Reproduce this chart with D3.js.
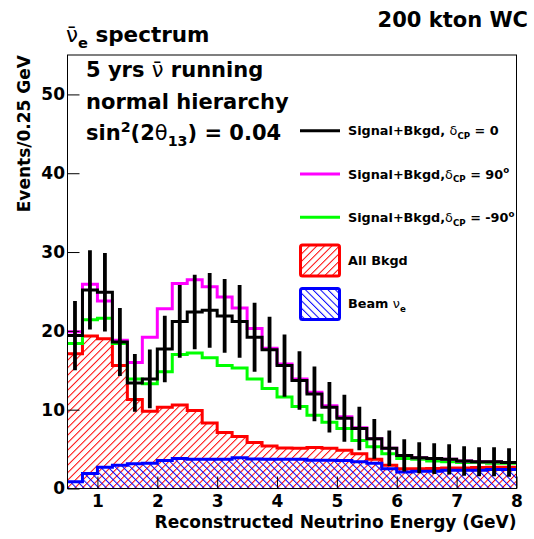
<!DOCTYPE html>
<html>
<head>
<meta charset="utf-8">
<script src="https://cdn.jsdelivr.net/npm/d3@7"></script>
<style>
body { margin: 0; background: #fff; }
text { font-family: "DejaVu Sans", sans-serif; font-weight: bold; fill: #000; }
</style>
</head>
<body>
<div id="chart"></div>
<script>
// histogram binning (GeV)
var binLow = 0.5, binWidth = 0.25, nBins = 30;

// events per bin
var sigCP0   = [19.4, 25.2, 24.9, 18.6, 13.4, 13.9, 17.7, 21.2, 22.4, 22.6, 21.9, 21.2, 19.2, 17.6, 15.6,
                13.7, 12.0, 10.3, 8.9, 7.6, 6.3, 5.1, 4.2, 3.9, 3.8, 3.7, 3.5, 3.4, 3.4, 3.3];
var sigCP90  = [19.9, 25.9, 23.8, 18.8, 16.0, 19.2, 22.8, 26.0, 26.5, 25.6, 24.3, 22.9, 20.3, 17.8, 15.8,
                13.9, 12.2, 10.5, 9.1, 7.7, 6.3, 5.1, 4.2, 3.9, 3.8, 3.7, 3.5, 3.4, 3.4, 3.3];
var sigCPm90 = [18.4, 21.4, 21.6, 18.4, 13.9, 13.3, 14.8, 17.0, 17.2, 16.6, 15.6, 15.3, 13.9, 12.7, 11.6,
                10.4, 9.3, 8.4, 7.6, 6.1, 5.3, 4.4, 3.8, 3.7, 3.5, 3.4, 3.3, 3.3, 3.2, 3.2];
var allBkgd  = [17.1, 19.35, 19.0, 15.6, 11.3, 9.8, 10.3, 10.6, 9.9, 8.3, 7.1, 6.6, 5.85, 5.4, 5.15,
                5.1, 5.2, 5.1, 4.85, 4.4, 3.7, 2.95, 2.5, 2.5, 2.55, 2.6, 2.6, 2.65, 2.7, 2.7];
var beamNue  = [0.85, 1.9, 2.7, 2.95, 3.15, 3.2, 3.55, 3.8, 3.7, 3.7, 3.7, 3.9, 3.75, 3.7, 3.7,
                3.7, 3.6, 3.6, 3.55, 3.4, 3.2, 2.5, 2.1, 2.2, 2.2, 2.3, 2.3, 2.3, 2.4, 2.4];

var xTicks = [1, 2, 3, 4, 5, 6, 7, 8];
var yTicks = [0, 10, 20, 30, 40, 50];

var W = 534, H = 539;
var fr = {left: 67.5, right: 516.5, top: 55, bottom: 488.5};

var x = d3.scaleLinear().domain([0.5, 8]).range([fr.left, fr.right]);
var y = d3.scaleLinear().domain([0, 55]).range([fr.bottom, fr.top]);

var svg = d3.select("#chart").append("svg")
	.attr("width", W)
	.attr("height", H);

// hatch patterns (ROOT 3004 / 3005 style)
var defs = svg.append("defs");
function hatch(id, color, angle) {
	var p = defs.append("pattern")
		.attr("id", id)
		.attr("patternUnits", "userSpaceOnUse")
		.attr("width", 5.3).attr("height", 5.3)
		.attr("patternTransform", "rotate(" + angle + ")");
	p.append("line")
		.attr("x1", 0.5).attr("y1", 0).attr("x2", 0.5).attr("y2", 5.3)
		.attr("stroke", color).attr("stroke-width", 1);
}
hatch("hRed", "#ff0000", 45);
hatch("hBlue", "#0000ff", -45);

defs.append("clipPath").attr("id", "frameClip")
	.append("rect")
	.attr("x", fr.left).attr("y", fr.top)
	.attr("width", fr.right - fr.left).attr("height", fr.bottom - fr.top);

function steps(vals) {
	var pts = [];
	vals.forEach(function(v, i) {
		var a = binLow + i * binWidth;
		pts.push([a, v], [a + binWidth, v]);
	});
	return pts;
}

var line = d3.line().x(function(d) { return x(d[0]); }).y(function(d) { return y(d[1]); });
var area = d3.area().x(function(d) { return x(d[0]); }).y0(y(0)).y1(function(d) { return y(d[1]); });

var plot = svg.append("g").attr("clip-path", "url(#frameClip)");

// filled backgrounds
plot.append("path").attr("d", area(steps(allBkgd))).attr("fill", "url(#hRed)");
plot.append("path").attr("d", area(steps(beamNue))).attr("fill", "url(#hBlue)");

var hists = [
	{vals: allBkgd,  color: "#ff0000"},
	{vals: beamNue,  color: "#0000ff"},
	{vals: sigCPm90, color: "#00ff00"},
	{vals: sigCP90,  color: "#ff00ff"},
	{vals: sigCP0,   color: "#000000"}
];
hists.forEach(function(h) {
	plot.append("path")
		.attr("d", line(steps(h.vals)))
		.attr("fill", "none")
		.attr("stroke", h.color)
		.attr("stroke-width", 3);
});

// poisson error bars on the delta=0 curve
plot.selectAll(".err")
	.data(sigCP0)
	.enter()
	.append("line")
	.attr("class", "err")
	.attr("x1", function(d, i) { return x(binLow + (i + 0.5) * binWidth); })
	.attr("x2", function(d, i) { return x(binLow + (i + 0.5) * binWidth); })
	.attr("y1", function(d) { return y(d - Math.sqrt(d)); })
	.attr("y2", function(d) { return y(d + Math.sqrt(d)); })
	.attr("stroke", "#000")
	.attr("stroke-width", 3.8);

// frame
svg.append("rect")
	.attr("x", fr.left).attr("y", fr.top)
	.attr("width", fr.right - fr.left).attr("height", fr.bottom - fr.top)
	.attr("fill", "none").attr("stroke", "#000").attr("stroke-width", 1);

// axes, ticks pointing inwards
var xMinor = d3.range(0.6, 8.001, 0.2).filter(function(v) { return Math.abs(v - Math.round(v)) > 0.01; });
var yMinor = d3.range(2, 55, 2).filter(function(v) { return v % 10 !== 0; });

var gx = svg.append("g").attr("transform", "translate(0," + fr.bottom + ")");
gx.call(d3.axisBottom(x).tickValues(xMinor).tickSize(-6).tickFormat(""));
gx.call(d3.axisBottom(x).tickValues(xTicks).tickSize(-12).tickPadding(6.5).tickFormat(d3.format("d")));
var gy = svg.append("g").attr("transform", "translate(" + fr.left + ",0)");
gy.call(d3.axisLeft(y).tickValues(yMinor).tickSize(-6).tickFormat(""));
gy.call(d3.axisLeft(y).tickValues(yTicks).tickSize(-12).tickPadding(2.5).tickFormat(d3.format("d")));
svg.selectAll(".domain").remove();
svg.selectAll(".tick line").attr("stroke", "#000");
svg.selectAll(".tick text")
	.style("font-family", "'DejaVu Sans', sans-serif")
	.style("font-weight", "bold")
	.style("font-size", "17px")
	.attr("fill", "#000");

// text with sub/superscripts
function rich(g, tx, ty, size, parts, anchor) {
	var t = g.append("text")
		.attr("x", tx).attr("y", ty)
		.attr("text-anchor", anchor || "start")
		.style("font-size", size + "px");
	var off = 0;
	parts.forEach(function(p) {
		var s = t.append("tspan").text(p.t);
		var target = p.sub ? size * 0.3 : (p.sup ? -size * 0.4 : 0);
		if (target !== off) s.attr("dy", target - off);
		off = target;
		if (p.sub || p.sup) s.style("font-size", (size * 0.68) + "px");
		if (p.light) s.style("font-weight", "normal");
	});
	return t;
}

rich(svg, 528, 27, 21, [{t: "200 kton WC"}], "end");
rich(svg, 66, 42, 21.5, [{t: "\u03bd\u0304", light: true}, {t: "e", sub: true}, {t: " spectrum"}]);
rich(svg, 86, 77, 21, [{t: "5 yrs "}, {t: "\u03bd\u0304", light: true}, {t: " running"}]);
rich(svg, 86, 108.5, 21, [{t: "normal hierarchy"}]);
rich(svg, 86, 140, 21, [{t: "sin"}, {t: "2", sup: true}, {t: "(2"}, {t: "\u03b8", light: true},
	{t: "13", sub: true}, {t: ") = 0.04"}]);

svg.append("text")
	.attr("transform", "translate(30," + fr.top + ") rotate(-90)")
	.attr("text-anchor", "end")
	.style("font-size", "17px")
	.text("Events/0.25 GeV");
svg.append("text")
	.attr("x", fr.right).attr("y", 527.5)
	.attr("text-anchor", "end")
	.style("font-size", "17px")
	.text("Reconstructed Neutrino Energy (GeV)");

// legend
var legendEntries = [
	{kind: "line", color: "#000000", parts: [{t: "Signal+Bkgd, "}, {t: "\u03b4", light: true}, {t: "CP", sub: true}, {t: " = 0"}]},
	{kind: "line", color: "#ff00ff", parts: [{t: "Signal+Bkgd,"}, {t: "\u03b4", light: true}, {t: "CP", sub: true}, {t: " = 90"}, {t: "o", sup: true}]},
	{kind: "line", color: "#00ff00", parts: [{t: "Signal+Bkgd,"}, {t: "\u03b4", light: true}, {t: "CP", sub: true}, {t: " = -90"}, {t: "o", sup: true}]},
	{kind: "box", color: "#ff0000", fill: "url(#hRed)", parts: [{t: "All Bkgd"}]},
	{kind: "box", color: "#0000ff", fill: "url(#hBlue)", parts: [{t: "Beam "}, {t: "\u03bd", light: true}, {t: "e", sub: true}]}
];
var leg = svg.append("g");
legendEntries.forEach(function(e, i) {
	var ly = 130.7 + 43.3 * i;
	if (e.kind === "line") {
		leg.append("line")
			.attr("x1", 300).attr("x2", 340).attr("y1", ly).attr("y2", ly)
			.attr("stroke", e.color).attr("stroke-width", 3);
	} else {
		leg.append("rect")
			.attr("x", 300.5).attr("y", ly - 15.5).attr("width", 39).attr("height", 31)
			.attr("rx", 2)
			.attr("fill", e.fill).attr("stroke", e.color).attr("stroke-width", 3);
	}
	rich(leg, 348, ly + 4.5, 12.8, e.parts);
});
</script>
</body>
</html>
